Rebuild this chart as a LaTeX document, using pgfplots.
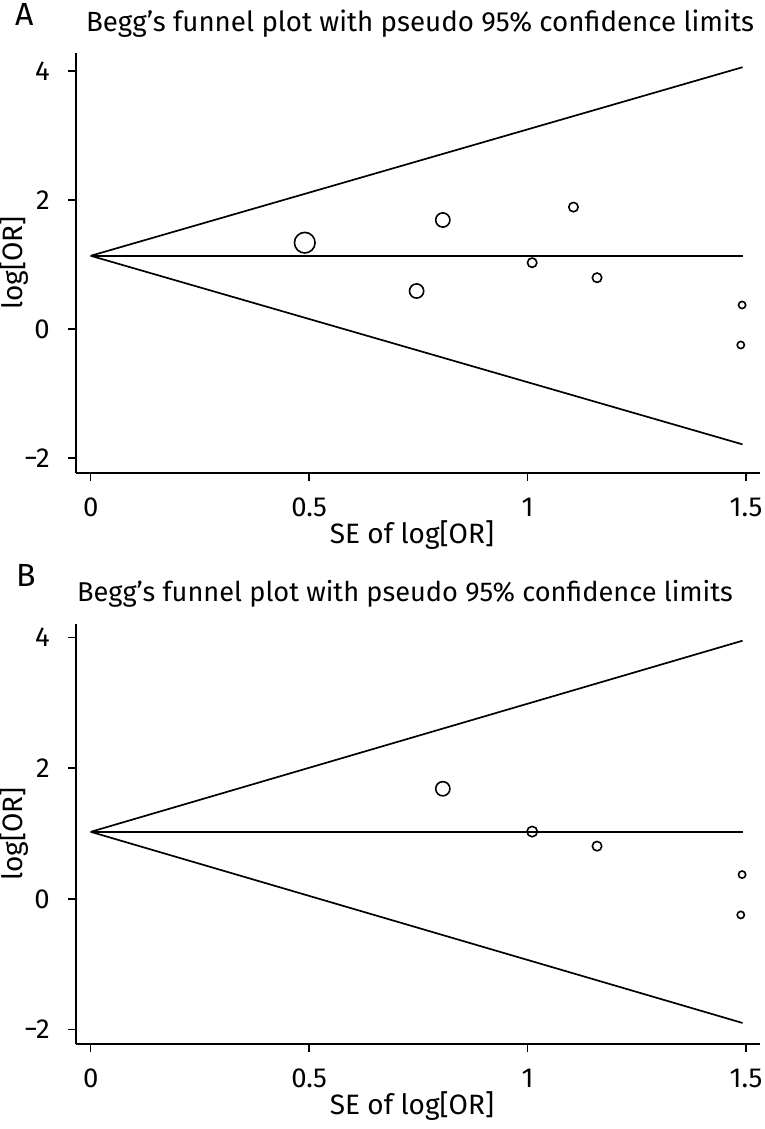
\documentclass[border=0pt]{standalone}
\usepackage{fontspec}
\setmainfont{Fira Sans}
\usepackage{pgfplots}
\pgfplotsset{compat=1.18}
\pgfplotsset{funnel/.style={
  scale only axis, width=684pt, height=420.3pt,
  axis lines*=left,
  xmin=-0.0336, xmax=1.532,
  xtick={0,0.5,1,1.5}, xticklabels={0,0.5,1,1.5},
  ytick={-2,0,2,4}, yticklabels={−2,0,2,4},
  /pgf/number format/assume math mode=true,
  tick align=outside, major tick length=8pt,
  tick style={line width=1.6pt, black},
  axis line style={line width=1.8pt},
  ticklabel style={font=\fontsize{27.5}{30}\selectfont, inner sep=0pt},
  xticklabel style={anchor=base, yshift=-35pt},
  yticklabel style={anchor=east, xshift=-18pt},
  clip=false,
}}
\tikzset{fl/.style={line width=1.7pt, black}, mk/.style={only marks, mark=o, mark options={line width=1.6pt, black}}}
\begin{document}
\begin{tikzpicture}[x=1pt,y=1pt]
\useasboundingbox (0,0) rectangle (764,-1129);
% Panel A
\node[anchor=base west, inner sep=0pt, font=\fontsize{32}{36}\selectfont] at (15,-26) {A};
\node[anchor=base, inner sep=0pt, font=\fontsize{27.7}{30}\selectfont] at (420,-32) {Begg’s funnel plot with pseudo 95\% confidence limits};
\node[anchor=base, inner sep=0pt, rotate=90, font=\fontsize{28}{30}\selectfont] at (23,-263) {log[OR]};
\node[anchor=base, inner sep=0pt, font=\fontsize{28}{30}\selectfont] at (412,-543) {SE of log[OR]};
\begin{axis}[funnel, at={(76pt,-473pt)}, anchor=south west, ymin=-2.233, ymax=4.284]
\addplot[fl] coordinates {(0,1.135) (1.492,1.135)};
\addplot[fl] coordinates {(0,1.135) (1.492,4.059)};
\addplot[fl] coordinates {(0,1.135) (1.492,-1.789)};
\addplot[mk, mark size=10.3pt] coordinates {(0.490,1.338)};
\addplot[mk, mark size=7.1pt] coordinates {(0.806,1.690) (0.746,0.589)};
\addplot[mk, mark size=4.7pt] coordinates {(1.0105,1.028) (1.105,1.890) (1.159,0.795)};
\addplot[mk, mark size=3.6pt] coordinates {(1.491,0.372) (1.488,-0.248)};
\end{axis}
% Panel B
\node[anchor=base west, inner sep=0pt, font=\fontsize{32}{36}\selectfont] at (16,-586) {B};
\node[anchor=base, inner sep=0pt, font=\fontsize{27.2}{30}\selectfont] at (405,-601) {Begg’s funnel plot with pseudo 95\% confidence limits};
\node[anchor=base, inner sep=0pt, rotate=90, font=\fontsize{28}{30}\selectfont] at (23,-834) {log[OR]};
\node[anchor=base, inner sep=0pt, font=\fontsize{28}{30}\selectfont] at (412,-1114) {SE of log[OR]};
\begin{axis}[funnel, at={(76pt,-1044pt)}, anchor=south west, ymin=-2.22, ymax=4.21]
\addplot[fl] coordinates {(0,1.026) (1.492,1.026)};
\addplot[fl] coordinates {(0,1.026) (1.492,3.950)};
\addplot[fl] coordinates {(0,1.026) (1.492,-1.898)};
\addplot[mk, mark size=7.1pt] coordinates {(0.806,1.685)};
\addplot[mk, mark size=5.2pt] coordinates {(1.0105,1.030)};
\addplot[mk, mark size=4.7pt] coordinates {(1.159,0.807)};
\addplot[mk, mark size=3.6pt] coordinates {(1.491,0.372) (1.488,-0.245)};
\end{axis}
\end{tikzpicture}
\end{document}
